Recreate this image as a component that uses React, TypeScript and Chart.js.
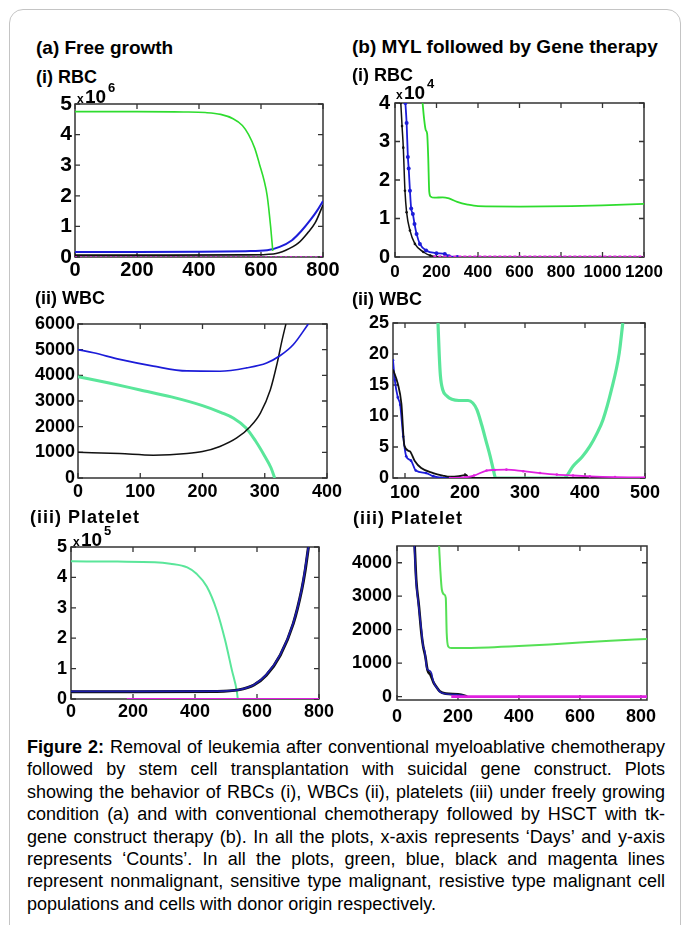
import React, { useEffect, useRef } from "react";
import { Chart, registerables } from "chart.js";

Chart.register(...registerables);

// ---------- (a)(i) RBC free growth (x10^6) ----------
const aRbcXTicks = [0, 200, 400, 600, 800];
const aRbcYTicks = [0, 1, 2, 3, 4, 5];
const aRbcGreenDays = [0, 200, 350, 420, 470, 510, 540, 560, 580, 596, 610, 620, 631, 638];
const aRbcGreen = [4.75, 4.75, 4.74, 4.72, 4.66, 4.52, 4.3, 4.0, 3.55, 3.0, 2.5, 2.0, 1.0, 0.2];
const aRbcBlueDays = [0, 200, 400, 550, 620, 660, 700, 730, 760, 780, 800];
const aRbcBlue = [0.16, 0.16, 0.17, 0.19, 0.22, 0.33, 0.55, 0.85, 1.22, 1.5, 1.83];
const aRbcBlackDays = [0, 300, 550, 640, 680, 720, 750, 775, 800];
const aRbcBlack = [0.06, 0.06, 0.07, 0.1, 0.22, 0.45, 0.78, 1.12, 1.7];
const aRbcMagentaDays = [0, 800];
const aRbcMagenta = [0, 0];

// ---------- (b)(i) RBC gene therapy (x10^4) ----------
const bRbcXTicks = [0, 200, 400, 600, 800, 1000, 1200];
const bRbcYTicks = [0, 1, 2, 3, 4];
const bRbcGreenDays = [133, 140, 148, 155, 160, 165, 172, 190, 230, 260, 300, 350, 400, 600, 850, 1000, 1200];
const bRbcGreen = [4.0, 3.6, 3.3, 3.2, 2.6, 1.7, 1.57, 1.54, 1.55, 1.52, 1.43, 1.36, 1.32, 1.31, 1.32, 1.34, 1.38];
const bRbcBlueDays = [50, 56, 62, 66, 72, 78, 86, 94, 104, 120, 150, 200, 240, 260, 300];
const bRbcBlue = [4.0, 3.48, 2.6, 2.3, 1.72, 1.26, 1.12, 0.86, 0.6, 0.34, 0.17, 0.1, 0.08, 0.02, 0];
const bRbcBlackDays = [28, 34, 40, 48, 56, 72, 96, 137, 170, 220];
const bRbcBlack = [4.0, 3.4, 2.84, 1.72, 1.16, 0.69, 0.34, 0.13, 0.04, 0];
const bRbcMagentaDays = [185, 1200];
const bRbcMagenta = [0, 0];

// ---------- (a)(ii) WBC free growth ----------
const aWbcXTicks = [0, 100, 200, 300, 400];
const aWbcYTicks = [0, 1000, 2000, 3000, 4000, 5000, 6000];
const aWbcBlueDays = [0, 25, 67, 121, 175, 228, 271, 303, 325, 346, 370];
const aWbcBlue = [5000, 4880, 4620, 4360, 4170, 4160, 4290, 4480, 4770, 5200, 6000];
const aWbcGreenDays = [0, 50, 100, 150, 200, 230, 250, 270, 285, 300, 310, 316];
const aWbcGreen = [3950, 3700, 3430, 3160, 2820, 2550, 2330, 1950, 1450, 850, 400, 0];
const aWbcBlackDays = [0, 67, 121, 175, 200, 228, 255, 277, 293, 309, 320, 328, 334];
const aWbcBlack = [1000, 950, 890, 950, 1030, 1230, 1560, 2010, 2530, 3440, 4480, 5390, 6000];

// ---------- (b)(ii) WBC gene therapy ----------
const bWbcXTicks = [100, 200, 300, 400, 500];
const bWbcYTicks = [0, 5, 10, 15, 20, 25];
const bWbcGreenDays = [155, 157, 159, 163, 170, 178, 190, 205, 213, 220, 228, 235, 242, 248, 251, 300, 365, 380, 395, 408, 420, 430, 444, 457, 463];
const bWbcGreen = [25, 20, 16.5, 14.2, 13.2, 12.7, 12.5, 12.5, 12.1, 11, 8.5, 6, 3.5, 1, 0, 0, 0, 1.9, 3.4, 5.1, 7.2, 9.4, 14.2, 20.1, 25];
const bWbcBlueDays = [80, 83, 88, 92, 97, 102, 110, 118, 135, 147, 160, 200, 500];
const bWbcBlue = [19, 15.8, 13, 11.8, 6.7, 3.5, 2.8, 1.2, 0.8, 0.3, 0.05, 0, 0];
const bWbcBlackDays = [80, 88, 94, 99, 108, 116, 127, 147, 163, 175, 190, 202, 206, 500];
const bWbcBlack = [17.5, 15.2, 12, 5.2, 4.3, 2.8, 1.6, 0.8, 0.4, 0.2, 0.3, 0.5, 0, 0];
const bWbcMagentaDays = [175, 200, 215, 236, 250, 269, 297, 325, 353, 380, 408, 450, 500];
const bWbcMagenta = [0, 0.1, 0.4, 1.2, 1.3, 1.35, 1.1, 0.8, 0.55, 0.4, 0.27, 0.15, 0.1];

// ---------- (a)(iii) Platelet free growth (x10^5) ----------
const aPltXTicks = [0, 200, 400, 600, 800];
const aPltYTicks = [0, 1, 2, 3, 4, 5];
const aPltGreenDays = [0, 150, 270, 320, 375, 405, 438, 470, 497, 519, 535, 538];
const aPltGreen = [4.53, 4.52, 4.5, 4.45, 4.33, 4.12, 3.7, 2.92, 1.94, 0.95, 0.25, 0];
const aPltBlueDays = [0, 200, 480, 540, 590, 630, 675, 717, 744, 766];
const aPltBlue = [0.25, 0.25, 0.26, 0.3, 0.47, 0.8, 1.46, 2.5, 3.6, 5];
const aPltBlackDays = [0, 200, 470, 540, 590, 630, 675, 717, 744, 755, 766];
const aPltBlack = [0.24, 0.24, 0.25, 0.3, 0.46, 0.78, 1.44, 2.48, 3.58, 4.2, 5];
const aPltMagentaDays = [180, 800];
const aPltMagenta = [0, 0];

// ---------- (b)(iii) Platelet gene therapy ----------
const bPltXTicks = [0, 200, 400, 600, 800];
const bPltYTicks = [0, 1000, 2000, 3000, 4000];
const bPltGreenDays = [138, 142, 147, 155, 160, 163, 168, 178, 200, 300, 400, 500, 600, 700, 820];
const bPltGreen = [4500, 3800, 3200, 3050, 2950, 1900, 1500, 1450, 1450, 1470, 1510, 1560, 1620, 1670, 1720];
const bPltBlueDays = [57, 60, 63, 70, 76, 80, 85, 91, 98, 106, 113, 118, 124, 132, 140, 162, 195, 215, 225];
const bPltBlue = [4500, 3900, 3400, 2800, 2300, 2000, 1550, 1350, 850, 780, 700, 500, 350, 250, 150, 80, 60, 40, 0];
const bPltBlackDays = [58, 63, 72, 80, 86, 93, 100, 110, 120, 130, 140, 160, 200, 222, 230];
const bPltBlack = [4500, 3500, 2700, 1900, 1500, 1200, 800, 650, 420, 280, 160, 90, 70, 30, 0];
const bPltMagentaDays = [178, 820];
const bPltMagenta = [0, 0];

const captionLines = [
  "Figure 2: Removal of leukemia after conventional myeloablative chemotherapy",
  "followed by stem cell transplantation with suicidal gene construct. Plots",
  "showing the behavior of RBCs (i), WBCs (ii), platelets (iii) under freely growing",
  "condition (a) and with conventional chemotherapy followed by HSCT with tk-",
  "gene construct therapy (b). In all the plots, x-axis represents \u2018Days\u2019 and y-axis",
  "represents \u2018Counts\u2019. In all the plots, green, blue, black and magenta lines",
  "represent nonmalignant, sensitive type malignant, resistive type malignant cell",
  "populations and cells with donor origin respectively.",
];

const FONT = "'Liberation Sans', Arial, Helvetica, sans-serif";
const GREEN = "#2edc2e";
const MINT = "#5ae69a";
const BLUE = "#1c1cd8";
const NAVY_BLUE = "#1c1caa";
const BLACK = "#111111";
const MAGENTA = "#e020e0";

type Series = {
  xs: number[];
  ys: number[];
  color: string;
  width: number;
  radius?: number;
  dash?: number[];
};

type Spec = {
  L: number; T: number; R: number; B: number;
  xMin: number; xMax: number; yMin: number; yMax: number;
  xTicks: number[]; yTicks: number[];
  yFont: number; xFont: number; yPad: number; xPad: number;
  series: Series[];
};

const YW = 70;
const XH = 32;
const PT = 16;
const PR = 34;

const framePlugin = {
  id: "matlabFrame",
  beforeDatasetsDraw(chart: any) {
    const { ctx, chartArea: a, scales } = chart;
    ctx.save();
    ctx.strokeStyle = "#333333";
    ctx.lineWidth = 1.5;
    ctx.strokeRect(a.left, a.top, a.right - a.left, a.bottom - a.top);
    const tl = 5;
    ctx.lineWidth = 1.3;
    ctx.beginPath();
    scales.x.ticks.forEach((t: any) => {
      const px = scales.x.getPixelForValue(t.value);
      ctx.moveTo(px, a.bottom); ctx.lineTo(px, a.bottom - tl);
      ctx.moveTo(px, a.top); ctx.lineTo(px, a.top + tl);
    });
    scales.y.ticks.forEach((t: any) => {
      const py = scales.y.getPixelForValue(t.value);
      ctx.moveTo(a.left, py); ctx.lineTo(a.left + tl, py);
      ctx.moveTo(a.right, py); ctx.lineTo(a.right - tl, py);
    });
    ctx.stroke();
    ctx.restore();
  },
};

function Panel({ spec }: { spec: Spec }) {
  const ref = useRef<HTMLCanvasElement | null>(null);
  const w = spec.R - spec.L + YW + PR;
  const h = spec.B - spec.T + PT + XH;
  useEffect(() => {
    if (!ref.current) return;
    // Chart.js paints dataset 0 last (on top); reverse so the last listed series is on top
    const ordered = [...spec.series].reverse();
    const chart = new Chart(ref.current, {
      type: "line",
      data: {
        datasets: ordered.map((s) => ({
          data: s.xs.map((x, i) => ({ x, y: s.ys[i] })),
          borderColor: s.color,
          backgroundColor: s.color,
          borderWidth: s.width,
          pointRadius: s.radius ?? 0,
          pointBorderWidth: 0,
          borderDash: s.dash ?? [],
          cubicInterpolationMode: "monotone" as const,
          fill: false,
        })),
      },
      options: {
        animation: false,
        responsive: false,
        maintainAspectRatio: false,
        events: [],
        layout: { padding: { left: 0, top: PT, right: PR, bottom: 0 } },
        plugins: { legend: { display: false }, tooltip: { enabled: false } },
        scales: {
          x: {
            type: "linear",
            min: spec.xMin,
            max: spec.xMax,
            grid: { display: false, drawTicks: false },
            border: { display: false },
            ticks: {
              color: "#000",
              padding: spec.xPad,
              autoSkip: false,
              maxRotation: 0,
              font: { family: FONT, size: spec.xFont, weight: "bold" },
              callback: (v: any) => String(v),
            },
            afterBuildTicks: (s: any) => {
              s.ticks = spec.xTicks.map((v) => ({ value: v }));
            },
            afterFit: (s: any) => {
              s.height = XH;
            },
          },
          y: {
            type: "linear",
            min: spec.yMin,
            max: spec.yMax,
            grid: { display: false, drawTicks: false },
            border: { display: false },
            ticks: {
              color: "#000",
              padding: spec.yPad,
              autoSkip: false,
              font: { family: FONT, size: spec.yFont, weight: "bold" },
              callback: (v: any) => String(v),
            },
            afterBuildTicks: (s: any) => {
              s.ticks = spec.yTicks.map((v) => ({ value: v }));
            },
            afterFit: (s: any) => {
              s.width = YW;
            },
          },
        },
      },
      plugins: [framePlugin],
    } as any);
    return () => chart.destroy();
  }, []);
  return (
    <canvas
      ref={ref}
      width={w}
      height={h}
      style={{ position: "absolute", left: spec.L - YW, top: spec.T - PT, width: w, height: h }}
    />
  );
}

function Label({ x, base, size, text, spacing = 0, bold = true }: { x: number; base: number; size: number; text: string; spacing?: number; bold?: boolean }) {
  return (
    <div
      style={{
        position: "absolute",
        left: x,
        top: base - 0.7635 * size,
        fontFamily: FONT,
        fontSize: size,
        lineHeight: `${size}px`,
        fontWeight: bold ? 700 : 400,
        letterSpacing: spacing,
        whiteSpace: "nowrap",
        color: "#000",
      }}
    >
      {text}
    </div>
  );
}

function Exponent({ x, base, exp }: { x: number; base: number; exp: string }) {
  return (
    <>
      <Label x={x} base={base} size={12} text="x" />
      <Label x={x + 8} base={base} size={19} text="10" />
      <Label x={x + 31} base={base - 11} size={13} text={exp} />
    </>
  );
}

const panels: Spec[] = [
  {
    L: 75, T: 104, R: 323, B: 257, xMin: 0, xMax: 800, yMin: 0, yMax: 5,
    xTicks: aRbcXTicks, yTicks: aRbcYTicks, yFont: 21, xFont: 20, yPad: 3, xPad: 1,
    series: [
      { xs: aRbcMagentaDays, ys: aRbcMagenta, color: MAGENTA, width: 1.5, dash: [2, 3] },
      { xs: aRbcBlackDays, ys: aRbcBlack, color: BLACK, width: 1.6 },
      { xs: aRbcBlueDays, ys: aRbcBlue, color: BLUE, width: 2 },
      { xs: aRbcGreenDays, ys: aRbcGreen, color: GREEN, width: 1.6 },
    ],
  },
  {
    L: 395, T: 102, R: 644, B: 257, xMin: 0, xMax: 1200, yMin: 0, yMax: 4,
    xTicks: bRbcXTicks, yTicks: bRbcYTicks, yFont: 20, xFont: 17, yPad: 5, xPad: 5,
    series: [
      { xs: bRbcBlackDays, ys: bRbcBlack, color: BLACK, width: 1.5, radius: 1.3 },
      { xs: bRbcBlueDays, ys: bRbcBlue, color: BLUE, width: 1.8, radius: 2 },
      { xs: bRbcGreenDays, ys: bRbcGreen, color: GREEN, width: 1.8 },
      { xs: bRbcMagentaDays, ys: bRbcMagenta, color: MAGENTA, width: 3, dash: [3, 2] },
    ],
  },
  {
    L: 78, T: 324, R: 327, B: 478, xMin: 0, xMax: 400, yMin: 0, yMax: 6000,
    xTicks: aWbcXTicks, yTicks: aWbcYTicks, yFont: 18, xFont: 18, yPad: 3, xPad: 3,
    series: [
      { xs: aWbcGreenDays, ys: aWbcGreen, color: MINT, width: 3 },
      { xs: aWbcBlackDays, ys: aWbcBlack, color: BLACK, width: 1.5 },
      { xs: aWbcBlueDays, ys: aWbcBlue, color: BLUE, width: 1.7 },
    ],
  },
  {
    L: 393, T: 323, R: 645, B: 478, xMin: 80, xMax: 500, yMin: 0, yMax: 25,
    xTicks: bWbcXTicks, yTicks: bWbcYTicks, yFont: 18, xFont: 18, yPad: 4, xPad: 4,
    series: [
      { xs: bWbcGreenDays, ys: bWbcGreen, color: MINT, width: 3.2 },
      { xs: bWbcBlueDays, ys: bWbcBlue, color: BLUE, width: 1.8, radius: 1.3 },
      { xs: bWbcBlackDays, ys: bWbcBlack, color: BLACK, width: 1.8 },
      { xs: bWbcMagentaDays, ys: bWbcMagenta, color: MAGENTA, width: 1.8, radius: 1.3 },
    ],
  },
  {
    L: 71, T: 547, R: 319, B: 699, xMin: 0, xMax: 800, yMin: 0, yMax: 5,
    xTicks: aPltXTicks, yTicks: aPltYTicks, yFont: 18, xFont: 18, yPad: 4, xPad: 2,
    series: [
      { xs: aPltGreenDays, ys: aPltGreen, color: MINT, width: 2 },
      { xs: aPltBlackDays, ys: aPltBlack, color: BLACK, width: 3 },
      { xs: aPltBlueDays, ys: aPltBlue, color: NAVY_BLUE, width: 1.8 },
      { xs: aPltMagentaDays, ys: aPltMagenta, color: MAGENTA, width: 2.2 },
    ],
  },
  {
    L: 397, T: 546, R: 647, B: 700, xMin: 0, xMax: 820, yMin: -100, yMax: 4500,
    xTicks: bPltXTicks, yTicks: bPltYTicks, yFont: 18, xFont: 18, yPad: 5, xPad: 6,
    series: [
      { xs: bPltGreenDays, ys: bPltGreen, color: "#55e055", width: 2 },
      { xs: bPltBlackDays, ys: bPltBlack, color: BLACK, width: 2.6 },
      { xs: bPltBlueDays, ys: bPltBlue, color: NAVY_BLUE, width: 1.6 },
      { xs: bPltMagentaDays, ys: bPltMagenta, color: MAGENTA, width: 2.6 },
    ],
  },
];

function CaptionLine({ text, justify, first }: { text: string; justify: boolean; first: boolean }) {
  const words = text.split(" ");
  if (!justify) {
    return <div style={{ height: 22.4, whiteSpace: "nowrap" }}>{text}</div>;
  }
  return (
    <div style={{ display: "flex", justifyContent: "space-between", height: 22.4, whiteSpace: "nowrap" }}>
      {words.map((w, i) => (
        <span key={i} style={{ fontWeight: first && i < 2 ? 700 : 400 }}>
          {w}
        </span>
      ))}
    </div>
  );
}

export default function App() {
  return (
    <div
      style={{
        position: "absolute",
        left: 0,
        top: 0,
        width: 683,
        height: 925,
        overflow: "hidden",
        background: "#fff",
      }}
    >
      <div
        style={{
          position: "absolute",
          left: 9,
          top: 9,
          width: 670,
          height: 960,
          border: "1px solid #c4c4c4",
          borderRadius: 14,
        }}
      />
      {panels.map((p, i) => (
        <Panel key={i} spec={p} />
      ))}
      <Label x={36} base={53} size={19} text="(a) Free growth" />
      <Label x={352} base={52} size={19} text="(b) MYL followed by Gene therapy" />
      <Label x={36} base={82} size={18} text="(i) RBC" />
      <Label x={352} base={80} size={18} text="(i) RBC" />
      <Label x={35} base={303} size={18} text="(ii) WBC" />
      <Label x={352} base={304} size={18} text="(ii) WBC" />
      <Label x={30} base={522} size={18} text="(iii) Platelet" spacing={1} />
      <Label x={353} base={523} size={18} text="(iii) Platelet" spacing={1} />
      <Exponent x={77} base={102} exp="6" />
      <Exponent x={396} base={98} exp="4" />
      <Exponent x={73} base={545} exp="5" />
      <div
        style={{
          position: "absolute",
          left: 27,
          top: 736,
          width: 638,
          fontFamily: FONT,
          fontSize: 18,
          lineHeight: "22.4px",
          color: "#000",
        }}
      >
        {captionLines.map((t, i) => (
          <CaptionLine key={i} text={t} justify={i < captionLines.length - 1} first={i === 0} />
        ))}
      </div>
    </div>
  );
}
